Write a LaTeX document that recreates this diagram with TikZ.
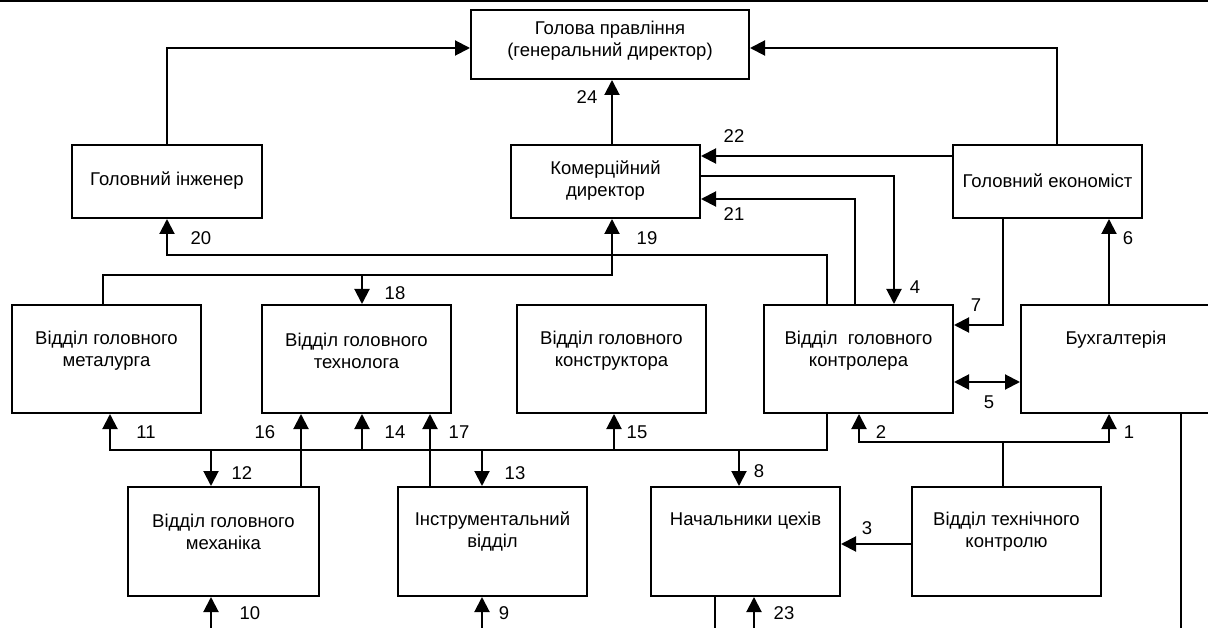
\documentclass[tikz,border=0pt]{standalone}
\usepackage{fontspec}
\setmainfont{Liberation Sans}
\usetikzlibrary{arrows.meta}
\begin{document}
\begin{tikzpicture}[x=1pt,y=-1pt,
  box/.style={draw, line width=2pt, inner sep=0pt, minimum width=189pt},
  row1/.style={box, minimum height=73pt},
  row2/.style={box, minimum height=108pt},
  row3/.style={box, minimum height=109pt},
  txt/.style={font=\fontsize{18.5}{22}\selectfont, align=center, inner sep=0pt},
  num/.style={font=\fontsize{18.5}{22}\selectfont, inner sep=0pt},
  ln/.style={line width=2pt},
  arr/.style={ln, -{Triangle[length=15pt,width=15pt]}},
  arrb/.style={ln, {Triangle[length=15pt,width=15pt]}-{Triangle[length=15pt,width=15pt]}},
]
\useasboundingbox (0,0) rectangle (1208,628);
\draw[line width=2.5pt] (0,1) -- (1208,1);

% boxes
\node[box, minimum width=278pt, minimum height=69pt] (gd) at (610,44.5) {};
\node[row1, minimum width=190pt] (gi) at (167,181.5) {};
\node[row1] (kd) at (605.5,181.5) {};
\node[row1] (ge) at (1047.5,181.5) {};
\node[row2] (vm) at (106.5,359) {};
\node[row2] (vt) at (356.5,359) {};
\node[row2] (vk) at (611.5,359) {};
\node[row2] (vkon) at (858.5,359) {};
\node[row2, minimum width=191pt] (bh) at (1116.5,359) {};
\node[row3, minimum width=191pt] (mech) at (223.5,541.5) {};
\node[row3] (instr) at (492.5,541.5) {};
\node[row3] (nach) at (745.5,541.5) {};
\node[row3] (vtk) at (1006.5,541.5) {};

% texts
\node[txt] at (610,41) {Голова правління\\(генеральний директор)};
\node[txt] at (167,181) {Головний інженер};
\node[txt] at (605.5,180.5) {Комерційний\\директор};
\node[txt] at (1047.5,181) {Головний економіст};
\node[txt] at (106.5,351) {Відділ головного\\металурга};
\node[txt] at (356.5,351) {Відділ головного\\технолога};
\node[txt] at (611.5,351) {Відділ головного\\конструктора};
\node[txt] at (858.5,351) {Відділ~ головного\\контролера};
\node[txt] at (1116,340) {Бухгалтерія};
\node[txt] at (223.5,531.5) {Відділ головного\\механіка};
\node[txt] at (492.5,531.5) {Інструментальний\\відділ};
\node[txt] at (745.5,521) {Начальники цехів};
\node[txt] at (1006.5,531.5) {Відділ технічного\\контролю};

% free ends at the bottom
\coordinate (b10) at (211,640);
\coordinate (b9) at (482,640);
\coordinate (b23) at (754,640);
\coordinate (bn) at (715,640);
\coordinate (bb) at (1181,640);

% connectors
\draw[arr] (gi.north) |- (gd.west |- 0,48);
\draw[arr] (ge.north -| 1057,0) |- (gd.east |- 0,48);
\draw[arr] (kd.north -| 612,0) -- (gd.south -| 612,0);
\draw[arr] (ge.west |- 0,156) -- (kd.east |- 0,156);
\draw[arr] (kd.east |- 0,176) -| (vkon.north -| 894,0);
\draw[arr] (vkon.north -| 855,0) |- (kd.east |- 0,199);
\draw[arr] (vkon.north -| 827,0) |- (gi.south |- 0,255) -- (gi.south);
\draw[arr] (vm.north -| 103,0) |- (612,275) -- (kd.south -| 612,0);
\coordinate (j18) at (362,275);
\draw[arr] (j18) -- (vt.north -| 362,0);
\draw[arr] (bh.north -| 1109,0) -- (ge.south -| 1109,0);
\draw[arr] (ge.south -| 1003,0) |- (vkon.east |- 0,325);
\draw[arrb] (vkon.east |- 0,382) -- (bh.west |- 0,382);

% bus
\draw[arr] (vkon.south -| 827,0) |- (110,450) -- (vm.south -| 110,0);
\coordinate (j15) at (614,450);
\coordinate (j14) at (362,450);
\coordinate (j12) at (211,450);
\coordinate (j13) at (482,450);
\coordinate (j8) at (739,450);
\draw[arr] (j15) -- (vk.south -| 614,0);
\draw[arr] (j14) -- (vt.south -| 362,0);
\draw[arr] (j12) -- (mech.north -| 211,0);
\draw[arr] (j13) -- (instr.north -| 482,0);
\draw[arr] (j8) -- (nach.north -| 739,0);
\draw[arr] (mech.north -| 301,0) -- (vt.south -| 301,0);
\draw[arr] (instr.north -| 430,0) -- (vt.south -| 430,0);

% technical control
\coordinate (j21) at (1003,442);
\draw[arr] (vtk.north -| 1003,0) |- (859,442) -- (vkon.south -| 859,0);
\draw[arr] (j21) -| (bh.south -| 1109,0);
\draw[arr] (vtk.west |- 0,544) -- (nach.east |- 0,544);

% bottom
\draw[ln] (bh.south -| 1181,0) -- (bb);
\draw[ln] (nach.south -| 715,0) -- (bn);
\draw[arr] (b23) -- (nach.south -| 754,0);
\draw[arr] (b10) -- (mech.south -| 211,0);
\draw[arr] (b9) -- (instr.south -| 482,0);

% numbers
\node[num] at (201,238) {20};
\node[num] at (587,97) {24};
\node[num] at (647,238) {19};
\node[num] at (395,293) {18};
\node[num] at (734,136) {22};
\node[num] at (734,214) {21};
\node[num] at (915,287) {4};
\node[num] at (1128,238) {6};
\node[num] at (976,305) {7};
\node[num] at (989,402) {5};
\node[num] at (881,432) {2};
\node[num] at (1129,432) {1};
\node[num] at (637,432) {15};
\node[num] at (759,471) {8};
\node[num] at (867,528) {3};
\node[num] at (784,613) {23};
\node[num] at (146,432) {11};
\node[num] at (242,473) {12};
\node[num] at (265,432) {16};
\node[num] at (395,432) {14};
\node[num] at (459,432) {17};
\node[num] at (515,473) {13};
\node[num] at (250,613) {10};
\node[num] at (504,613) {9};
\end{tikzpicture}
\end{document}
